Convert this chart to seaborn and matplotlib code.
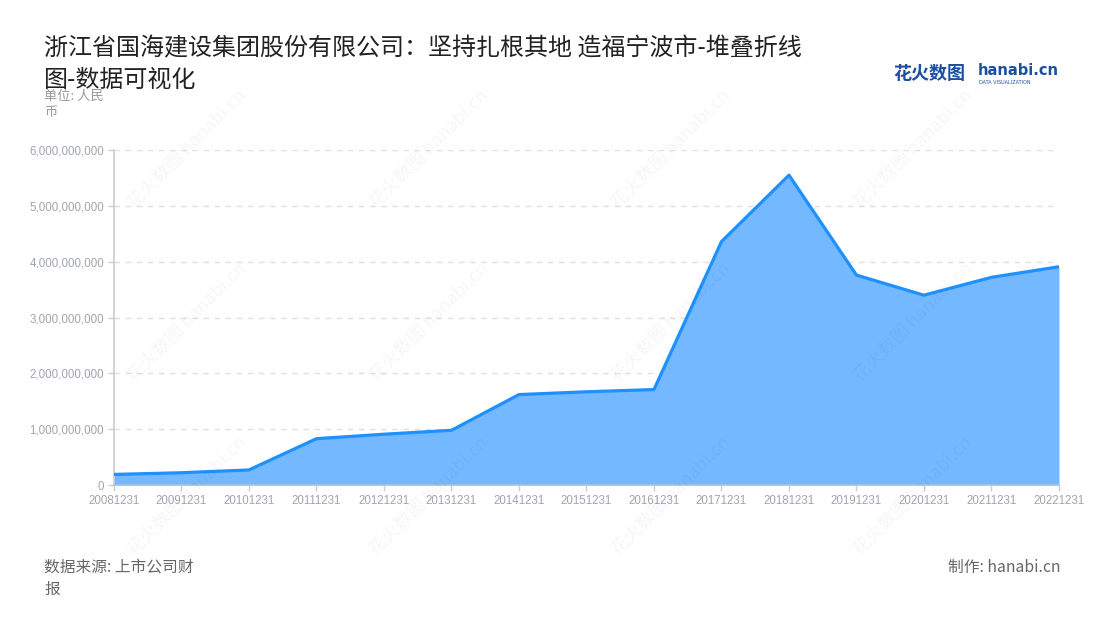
import matplotlib
matplotlib.use("Agg")
import matplotlib.pyplot as plt
import matplotlib.ticker as mticker
import numpy as np
import pandas as pd
import seaborn as sns

# ── Data ──────────────────────────────────────────────────────────────────────
dates = ["20081231", "20091231", "20101231", "20111231", "20121231",
         "20131231", "20141231", "20151231", "20161231", "20171231",
         "20181231", "20191231", "20201231", "20211231", "20221231"]
values = [0.19e9, 0.22e9, 0.27e9, 0.83e9, 0.91e9,
          0.98e9, 1.62e9, 1.67e9, 1.71e9, 4.36e9,
          5.55e9, 3.76e9, 3.40e9, 3.72e9, 3.91e9]
y_ticks = [0, 1e9, 2e9, 3e9, 4e9, 5e9, 6e9]

title = "浙江省国海建设集团股份有限公司：坚持扎根其地 造福宁波市-堆叠折线\n图-数据可视化"
unit_label = "单位: 人民\n币"
source_label = "数据来源: 上市公司财\n报"
credit_label = "制作: hanabi.cn"

df = pd.DataFrame({"idx": np.arange(len(dates)), "date": dates, "value": values})

# ── Style ─────────────────────────────────────────────────────────────────────
sns.set_theme(style="white")
plt.rcParams["font.family"] = ["Noto Sans CJK SC", "DejaVu Sans"]

fill_color = "#74b9ff"
line_color = "#1e90ff"

fig = plt.figure(figsize=(11, 6.2), dpi=100)
ax = fig.add_axes([0.1036, 0.2177, 0.8591, 0.5403])

ax.fill_between(df["idx"], df["value"], 0, color=fill_color, lw=0, zorder=2)
sns.lineplot(data=df, x="idx", y="value", ax=ax, color=line_color,
             linewidth=2.3, zorder=3)

ax.set_xlim(0, len(dates) - 1)
ax.set_ylim(0, 6e9)
ax.set_xticks(df["idx"])
ax.set_xticklabels(dates)
ax.set_yticks(y_ticks)
ax.yaxis.set_major_formatter(mticker.FuncFormatter(lambda v, _: f"{v:,.0f}"))
ax.set_xlabel("")
ax.set_ylabel("")

ax.grid(axis="y", color="#e0e0e0", linestyle=(0, (4, 4)), linewidth=1)
ax.grid(axis="x", visible=False)
ax.set_axisbelow(True)
for side in ["top", "right"]:
    ax.spines[side].set_visible(False)
ax.spines["left"].set_color("#cccccc")
ax.spines["left"].set_linewidth(1.2)
ax.spines["bottom"].set_color("#9fc8f0")
ax.spines["bottom"].set_linewidth(1.2)
ax.tick_params(axis="both", which="major", length=4, width=1, color="#cccccc",
               labelsize=8.3, labelcolor="#a0a4b0", pad=3, bottom=True, left=True)
for lbl in ax.get_xticklabels() + ax.get_yticklabels():
    lbl.set_family(["Liberation Sans"])

# ── Texts ─────────────────────────────────────────────────────────────────────
fig.text(0.040, 0.943, title, fontsize=17.3, color="#222222", va="top",
         ha="left", linespacing=1.3)
fig.text(0.040, 0.855, unit_label, fontsize=9.5, color="#999999", va="top",
         ha="left", linespacing=1.3)
fig.text(0.040, 0.067, source_label, fontsize=11.3, color="#666666", va="center",
         ha="left", linespacing=1.45)
fig.text(0.964, 0.085, credit_label, fontsize=11.3, color="#666666", va="center",
         ha="right")

# logo
fig.text(0.812, 0.881, "花火数图", fontsize=13, color="#1d4fa0",
         fontweight="bold", va="center", ha="left")
fig.text(0.889, 0.887, "hanabi.cn", fontsize=10.5, color="#1d4fa0",
         fontweight="bold", va="center", ha="left", family=["DejaVu Sans"])
fig.text(0.890, 0.867, "DATA VISUALIZATION", fontsize=3.5, color="#1d4fa0",
         va="center", ha="left", family=["DejaVu Sans"])

# faint watermarks
for wx in [0.17, 0.39, 0.61, 0.83]:
    for wy in [0.76, 0.48, 0.20]:
        fig.text(wx, wy, "花火数图 hanabi.cn", fontsize=13, color="#000000",
                 alpha=0.04, rotation=45, ha="center", va="center", zorder=10)

fig.savefig("out.png", dpi=100)
plt.close(fig)
